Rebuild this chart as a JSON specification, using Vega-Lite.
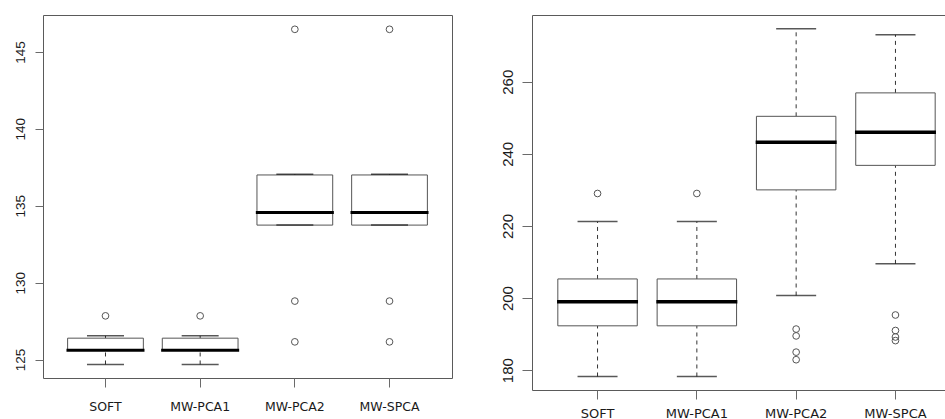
{
  "$schema": "https://vega.github.io/schema/vega-lite/v6.json",
  "padding": {"top": 12, "left": 0, "right": 0, "bottom": 0},
  "spacing": 36,
  "background": "white",
  "config": {
    "view": {"stroke": "#5a5a5a", "strokeWidth": 1},
    "axis": {"domain": false, "grid": false, "tickColor": "#6a6a6a", "labelColor": "#1a1a1a", "title": null}
  },
  "datasets": {
    "left": [
      {"g": "SOFT", "min": 124.68, "q1": 125.6, "median": 125.6, "q3": 126.39, "max": 126.54},
      {"g": "MW-PCA1", "min": 124.68, "q1": 125.6, "median": 125.6, "q3": 126.39, "max": 126.54},
      {"g": "MW-PCA2", "min": 133.74, "q1": 133.74, "median": 134.56, "q3": 137.0, "max": 137.05},
      {"g": "MW-SPCA", "min": 133.74, "q1": 133.74, "median": 134.56, "q3": 137.0, "max": 137.05}
    ],
    "leftOut": [
      {"g": "SOFT", "v": 127.84},
      {"g": "MW-PCA1", "v": 127.84},
      {"g": "MW-PCA2", "v": 146.47},
      {"g": "MW-PCA2", "v": 128.8},
      {"g": "MW-PCA2", "v": 126.15},
      {"g": "MW-SPCA", "v": 146.47},
      {"g": "MW-SPCA", "v": 128.8},
      {"g": "MW-SPCA", "v": 126.15}
    ],
    "right": [
      {"g": "SOFT", "min": 178.25, "q1": 192.3, "median": 199.0, "q3": 205.3, "max": 221.2},
      {"g": "MW-PCA1", "min": 178.25, "q1": 192.3, "median": 199.0, "q3": 205.3, "max": 221.2},
      {"g": "MW-PCA2", "min": 200.7, "q1": 230.0, "median": 243.2, "q3": 250.4, "max": 274.7},
      {"g": "MW-SPCA", "min": 209.5, "q1": 236.8, "median": 246.0, "q3": 256.9, "max": 273.0}
    ],
    "rightOut": [
      {"g": "SOFT", "v": 229.0},
      {"g": "MW-PCA1", "v": 229.0},
      {"g": "MW-PCA2", "v": 191.4},
      {"g": "MW-PCA2", "v": 189.5},
      {"g": "MW-PCA2", "v": 185.0},
      {"g": "MW-PCA2", "v": 182.9},
      {"g": "MW-SPCA", "v": 195.3},
      {"g": "MW-SPCA", "v": 191.0},
      {"g": "MW-SPCA", "v": 189.2},
      {"g": "MW-SPCA", "v": 188.2}
    ]
  },
  "hconcat": [
    {
      "width": 409,
      "height": 363,
      "title": {"text": " ", "fontSize": 1, "offset": 1},
      "encoding": {
        "x": {
          "field": "g", "type": "nominal",
          "sort": ["SOFT", "MW-PCA1", "MW-PCA2", "MW-SPCA"],
          "scale": {"paddingInner": 0.2, "paddingOuter": 0.26},
          "axis": {"labelAngle": 0, "tickSize": 9, "labelPadding": 13, "labelFont": "DejaVu Sans", "labelFontSize": 12.5}
        }
      },
      "layer": [
        {
          "data": {"name": "left"},
          "mark": {"type": "rule", "strokeDash": [4, 4], "color": "#333333", "strokeWidth": 1},
          "encoding": {
            "y": {"field": "q3", "type": "quantitative",
              "scale": {"domain": [123.8, 147.4], "nice": false, "zero": false},
              "axis": {"values": [125, 130, 135, 140, 145], "labelAngle": -90, "labelAlign": "center", "labelBaseline": "bottom", "tickSize": 8, "labelPadding": 8, "labelFont": "Liberation Sans", "labelFontSize": 13.5, "minExtent": 42, "maxExtent": 42}},
            "y2": {"field": "max"}
          }
        },
        {
          "data": {"name": "left"},
          "mark": {"type": "rule", "strokeDash": [4, 4], "color": "#333333", "strokeWidth": 1},
          "encoding": {"y": {"field": "min", "type": "quantitative"}, "y2": {"field": "q1"}}
        },
        {
          "data": {"name": "left"},
          "mark": {"type": "bar", "fill": "white", "stroke": "#555555", "strokeWidth": 1},
          "encoding": {"y": {"field": "q1", "type": "quantitative"}, "y2": {"field": "q3"}}
        },
        {
          "data": {"name": "left"},
          "mark": {"type": "tick", "color": "#111111", "size": 37, "thickness": 1.5},
          "encoding": {"y": {"field": "max", "type": "quantitative"}}
        },
        {
          "data": {"name": "left"},
          "mark": {"type": "tick", "color": "#111111", "size": 37, "thickness": 1.5},
          "encoding": {"y": {"field": "min", "type": "quantitative"}}
        },
        {
          "data": {"name": "left"},
          "mark": {"type": "tick", "color": "black", "size": 78, "thickness": 3, "opacity": 1},
          "encoding": {"y": {"field": "median", "type": "quantitative"}}
        },
        {
          "data": {"name": "leftOut"},
          "mark": {"type": "point", "shape": "circle", "filled": false, "stroke": "#555555", "strokeWidth": 1, "size": 45, "opacity": 1},
          "encoding": {"y": {"field": "v", "type": "quantitative"}}
        }
      ]
    },
    {
      "width": 416,
      "height": 375,
      "encoding": {
        "x": {
          "field": "g", "type": "nominal",
          "sort": ["SOFT", "MW-PCA1", "MW-PCA2", "MW-SPCA"],
          "scale": {"paddingInner": 0.2, "paddingOuter": 0.26, "range": [0, 429]},
          "axis": {"labelAngle": 0, "tickSize": 9, "labelPadding": 8, "labelFont": "DejaVu Sans", "labelFontSize": 13}
        }
      },
      "layer": [
        {
          "data": {"name": "right"},
          "mark": {"type": "rule", "strokeDash": [4, 4], "color": "#333333", "strokeWidth": 1},
          "encoding": {
            "y": {"field": "q3", "type": "quantitative",
              "scale": {"domain": [174.5, 278.5], "nice": false, "zero": false},
              "axis": {"values": [180, 200, 220, 240, 260], "labelAngle": -90, "labelAlign": "center", "labelBaseline": "bottom", "tickSize": 10, "labelPadding": 7, "labelFont": "Liberation Sans", "labelFontSize": 15, "minExtent": 42, "maxExtent": 42}},
            "y2": {"field": "max"}
          }
        },
        {
          "data": {"name": "right"},
          "mark": {"type": "rule", "strokeDash": [4, 4], "color": "#333333", "strokeWidth": 1},
          "encoding": {"y": {"field": "min", "type": "quantitative"}, "y2": {"field": "q1"}}
        },
        {
          "data": {"name": "right"},
          "mark": {"type": "bar", "fill": "white", "stroke": "#555555", "strokeWidth": 1},
          "encoding": {"y": {"field": "q1", "type": "quantitative"}, "y2": {"field": "q3"}}
        },
        {
          "data": {"name": "right"},
          "mark": {"type": "tick", "color": "#111111", "size": 40, "thickness": 1.5},
          "encoding": {"y": {"field": "max", "type": "quantitative"}}
        },
        {
          "data": {"name": "right"},
          "mark": {"type": "tick", "color": "#111111", "size": 40, "thickness": 1.5},
          "encoding": {"y": {"field": "min", "type": "quantitative"}}
        },
        {
          "data": {"name": "right"},
          "mark": {"type": "tick", "color": "black", "size": 81, "thickness": 3.5, "opacity": 1},
          "encoding": {"y": {"field": "median", "type": "quantitative"}}
        },
        {
          "data": {"name": "rightOut"},
          "mark": {"type": "point", "shape": "circle", "filled": false, "stroke": "#555555", "strokeWidth": 1, "size": 45, "opacity": 1},
          "encoding": {"y": {"field": "v", "type": "quantitative"}}
        }
      ]
    }
  ]
}
